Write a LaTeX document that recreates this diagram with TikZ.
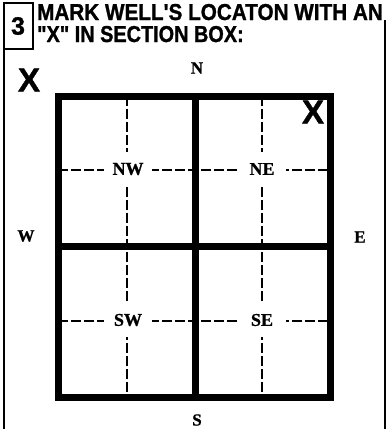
\documentclass[tikz,border=0pt]{standalone}
\usepackage{fontspec}
\setmainfont{Liberation Serif}
\newfontfamily\hdr[FakeBold=1.2]{Liberation Sans Bold}
\newfontfamily\lbl[FakeBold=1]{Liberation Serif Bold}
\begin{document}
\begin{tikzpicture}[x=1pt,y=-1pt,
  frame/.style={line width=2.2pt},
  gridline/.style={line width=7pt},
  qline/.style={line width=2.2pt, dash pattern=on 10pt off 3pt},
  qlabel/.style={font=\lbl\fontsize{18}{18}\selectfont, fill=white, minimum width=48pt, minimum height=34pt, inner sep=0pt},
  compass/.style={font=\lbl\fontsize{17}{17}\selectfont, inner sep=0pt},
  bigx/.style={font=\hdr\fontsize{33}{33}\selectfont, inner sep=0pt},
  header/.style={font=\hdr\fontsize{23}{23}\selectfont, inner sep=0pt, anchor=base west, xscale=0.9}]
\useasboundingbox (0,0) rectangle (388,429);
% outer frame and number box
\draw[frame] (4,429) -- (4,3) -- (33,3) -- (33,49) -- (4,49);
\draw[frame] (385,20) -- (385,429);
\node[font=\hdr\fontsize{25}{25}\selectfont, inner sep=0pt] (num) at (18,26) {3};
% header
\node[header] (h1) at (37,20) {MARK WELL'S LOCATON WITH AN};
\node[header, xscale=0.96] (h2) at (37,42) {"X" IN SECTION BOX:};
% grid coordinates
\coordinate (tl) at (58,96);
\coordinate (br) at (330,397);
\coordinate (tm) at (195,96);
\coordinate (bm) at (195,397);
\coordinate (lm) at (58,246);
\coordinate (rm) at (330,246);
% quarter lines
\draw[qline] (58,170) -- (330,170);
\draw[qline] (58,321) -- (330,321);
\draw[qline] (127,96) -- (127,397);
\draw[qline] (262,96) -- (262,397);
% thick section lines
\draw[gridline] (tl) rectangle (br);
\draw[gridline] (tm) -- (bm);
\draw[gridline] (lm) -- (rm);
% quarter labels
\node[qlabel] (nw) at (128,169) {NW};
\node[qlabel] (ne) at (262,169) {NE};
\node[qlabel] (sw) at (128,320) {SW};
\node[qlabel] (se) at (262,320) {SE};
% compass
\node[compass] (n) at (197,68) {N};
\node[compass] (w) at (26,236) {W};
\node[compass] (e) at (360,237) {E};
\node[compass] (s) at (197,420) {S};
% X marks
\node[bigx] (x1) at (29,80) {X};
\node[bigx] (x2) at (313,112) {X};
\end{tikzpicture}
\end{document}
